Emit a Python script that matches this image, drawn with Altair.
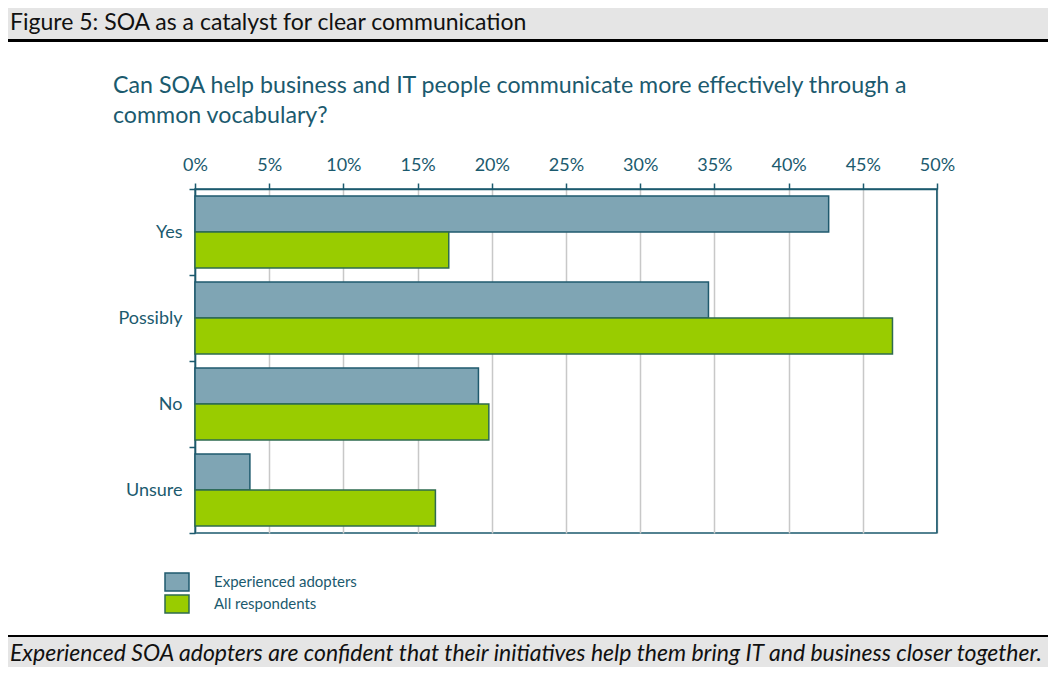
import altair as alt
import pandas as pd

categories = ["Yes", "Possibly", "No", "Unsure"]
series = ["Experienced adopters", "All respondents"]
experienced = [42.7, 34.6, 19.1, 3.7]
all_respondents = [17.1, 47.0, 19.8, 16.2]
tick_values = [0, 5, 10, 15, 20, 25, 30, 35, 40, 45, 50]

header_text = "Figure 5: SOA as a catalyst for clear communication"
title_lines = ["Can SOA help business and IT people communicate more effectively through a",
               "common vocabulary?"]
footer_text = "Experienced SOA adopters are confident that their initiatives help them bring IT and business closer together."

rows = []
for c, e, a in zip(categories, experienced, all_respondents):
    rows.append({"category": c, "series": series[0], "value": e})
    rows.append({"category": c, "series": series[1], "value": a})
df = pd.DataFrame(rows)

TEAL = "#1b5a6e"
EXP_FILL = "#7fa5b4"
ALL_FILL = "#99cc00"
EXP_STROKE = "#1f5a6e"
ALL_STROKE = "#2e6b4f"
GRID = "#c8c8c8"
BOX = "#e5e5e5"
FONT = "Lato"
W, H = 742, 344

bars = alt.Chart(df).mark_bar(strokeWidth=1.5).encode(
    x=alt.X("value:Q",
            scale=alt.Scale(domain=[0, 50], nice=False),
            axis=alt.Axis(orient="top", values=tick_values, labelExpr="datum.value + '%'",
                          title=None, grid=True, gridColor=GRID, gridWidth=1.5,
                          domainColor=TEAL, domainWidth=1.5, tickColor=TEAL, tickWidth=1.5,
                          tickSize=6, labelPadding=9, labelFontSize=18, labelColor=TEAL,
                          labelFont=FONT, labelFlush=False)),
    y=alt.Y("category:N", sort=categories,
            scale=alt.Scale(paddingInner=0, paddingOuter=0),
            axis=alt.Axis(title=None, tickBand="extent", domainColor=TEAL, domainWidth=1.5,
                          tickColor=TEAL, tickWidth=1.5, tickSize=6, labelPadding=7,
                          labelFontSize=18, labelColor=TEAL, labelFont=FONT, grid=False)),
    yOffset=alt.YOffset("series:N", sort=series,
                        scale=alt.Scale(paddingInner=0, paddingOuter=0.194)),
    color=alt.Color("series:N", sort=series,
                    scale=alt.Scale(domain=series, range=[EXP_FILL, ALL_FILL]),
                    legend=alt.Legend(orient="none", legendX=-28, legendY=383, title=None,
                                      symbolType="M-1.333,-1H1.333V1H-1.333Z", symbolSize=324,
                                      symbolStrokeColor=TEAL, symbolStrokeWidth=1.5,
                                      symbolOpacity=1, labelFontSize=15, labelColor=TEAL,
                                      labelFont=FONT, labelOffset=27, rowPadding=-2, padding=0)),
    stroke=alt.Stroke("series:N", sort=series,
                      scale=alt.Scale(domain=series, range=[EXP_STROKE, ALL_STROKE]),
                      legend=None),
)

right_border = alt.Chart(pd.DataFrame({"v": [50]})).mark_rule(color=TEAL, strokeWidth=1.5).encode(
    x=alt.X("v:Q"), y=alt.value(0), y2=alt.value(H)
)

one = pd.DataFrame({"d": [0]})
header_box = alt.Chart(one).mark_rect(color=BOX).encode(
    x=alt.value(-200), x2=alt.value(900), y=alt.value(-200), y2=alt.value(-150))
header_line = alt.Chart(one).mark_rect(color="#000000").encode(
    x=alt.value(-200), x2=alt.value(900), y=alt.value(-150), y2=alt.value(-147))
header = alt.Chart(one).mark_text(align="left", baseline="alphabetic", font=FONT, fontSize=23,
                                  color="#111111", text=header_text).encode(
    x=alt.value(-185), y=alt.value(-159))

title1 = alt.Chart(one).mark_text(align="left", baseline="alphabetic", font=FONT, fontSize=23.2,
                                  color=TEAL, text=title_lines[0]).encode(
    x=alt.value(-82), y=alt.value(-96))
title2 = alt.Chart(one).mark_text(align="left", baseline="alphabetic", font=FONT, fontSize=23.2,
                                  color=TEAL, text=title_lines[1]).encode(
    x=alt.value(-82), y=alt.value(-66))

footer_line = alt.Chart(one).mark_rect(color="#000000").encode(
    x=alt.value(-200), x2=alt.value(900), y=alt.value(446), y2=alt.value(448))
footer_box = alt.Chart(one).mark_rect(color=BOX).encode(
    x=alt.value(-200), x2=alt.value(900), y=alt.value(448), y2=alt.value(520))
footer = alt.Chart(one).mark_text(align="left", baseline="alphabetic", font=FONT, fontSize=23,
                                  fontStyle="italic", color="#111111", text=footer_text).encode(
    x=alt.value(-185), y=alt.value(472))

chart = alt.layer(
    header_box, header_line, header, title1, title2, bars, right_border,
    footer_line, footer_box, footer
).resolve_scale(x="shared").properties(
    width=W, height=H,
    autosize=alt.AutoSizeParams(type="none"),
    padding={"left": 187, "top": 181, "right": 111, "bottom": 134},
).configure_view(stroke=TEAL, strokeWidth=1.5)

chart.save("out.html", embed_options={"renderer": "svg", "actions": False})
